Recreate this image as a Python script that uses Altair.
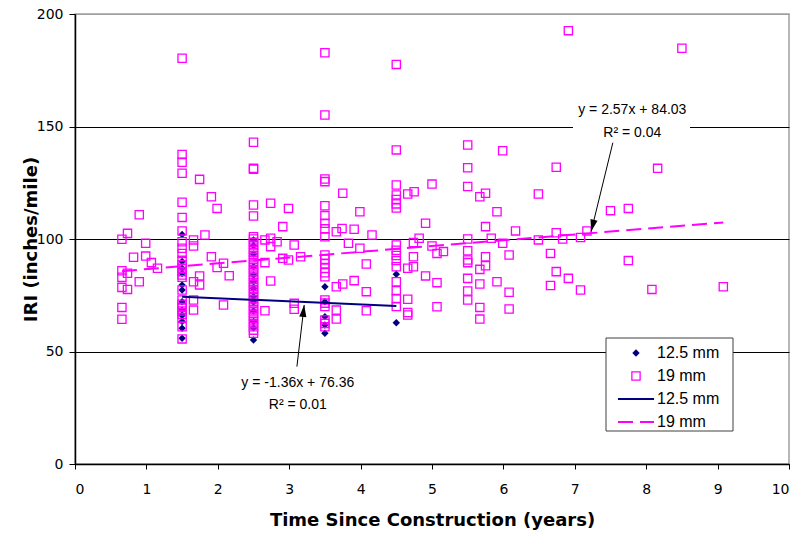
import math
import altair as alt
import pandas as pd

# ---------------- data ----------------
# 12.5 mm sections: IRI (inches/mile) grouped by age (years)
iri_125_by_age = {
    1.5: [102.0, 90.0, 87.0, 84.7, 79.6, 77.3, 72.1, 68.4, 66.0, 63.3, 60.3, 55.9],
    2.5: [99.6, 97.0, 93.3, 87.7, 84.0, 81.0, 78.0, 74.4, 72.0, 68.0, 63.3, 60.5, 55.1],
    3.5: [78.8, 72.1, 65.5, 61.8, 58.1],
    4.5: [84.3, 62.8],
}

# 19 mm sections surveyed at the common ages
iri_19_by_age = {
    1.5: [180.3, 137.6, 134.1, 129.2, 116.3, 109.6, 103.6, 98.8, 95.9, 93.6, 90.5, 88.5,
          87.0, 85.5, 84.0, 83.0, 77.3, 72.9, 71.0, 69.5, 68.0, 66.5, 65.0, 61.0, 55.6],
    2.5: [143.0, 131.4, 131.0, 115.1, 110.2, 101.0, 100.0, 98.5, 97.0, 95.5, 94.0, 92.5,
          91.0, 89.5, 88.0, 86.5, 85.0, 83.5, 82.0, 80.5, 79.0, 77.5, 76.0, 74.5, 73.0,
          71.5, 70.0, 68.5, 67.0, 65.5, 64.0, 62.5, 61.0, 59.5, 58.1],
    3.5: [182.8, 155.1, 126.7, 125.5, 114.8, 110.4, 107.0, 104.5, 101.0, 92.9, 91.0, 89.0,
          87.0, 85.0, 83.2, 72.9, 71.5, 70.0, 64.0, 62.5, 61.0],
    4.5: [177.6, 139.6, 124.0, 119.6, 117.6, 115.6, 113.8, 97.3, 95.0, 92.7, 90.4, 87.7,
          81.0, 77.0, 73.5, 70.0],
}

# 19 mm sections at other ages
age_19_other = [
    0.90, 0.735, 0.657, 0.99, 0.82, 0.99, 1.07, 1.155, 0.657, 0.735, 0.657, 0.90, 0.657, 0.735, 0.657, 0.657,
    1.745, 1.91, 1.99, 1.82, 1.66, 1.66, 1.91, 1.99, 2.08, 2.16, 1.745, 1.66, 1.745, 1.66, 1.66, 2.08,
    2.74, 2.99, 2.91, 2.66, 2.74, 2.83, 2.74, 3.07, 2.66, 2.91, 2.99, 3.16, 2.74, 2.66, 3.07, 3.07,
    3.75, 3.99, 3.66, 3.74, 3.91, 4.16, 3.83, 3.99, 4.08, 3.66, 3.75, 3.91, 4.08, 3.66, 3.66, 4.08,
    4.66, 4.75, 5.0, 4.91, 4.82, 4.74, 5.0, 5.07, 4.74, 4.66, 4.74, 4.91, 5.07, 4.66, 4.66, 4.66, 5.07,
    5.50, 5.99, 5.50, 6.74, 5.50, 5.75, 5.67, 6.49, 7.5, 5.91, 5.75, 6.17, 6.74, 7.17, 5.5, 5.83,
    5.99, 6.49, 6.83, 7.08, 5.16, 5.5, 5.5, 5.5, 5.75, 5.75, 5.67, 6.08, 6.66, 5.5, 5.67, 5.91,
    6.74, 6.91, 6.66, 7.08, 5.5, 5.5, 6.08, 5.67, 6.08, 5.67,
    8.16, 7.75, 7.75, 8.08, 9.08, 8.5, 6.91,
]
iri_19_other = [
    110.8, 102.5, 99.9, 98.1, 91.9, 92.4, 89.5, 87.0, 85.9, 84.8, 83.0, 81.0, 78.5, 77.6, 69.6, 64.3,
    126.5, 118.8, 113.6, 101.8, 99.6, 96.9, 92.1, 87.3, 89.2, 83.7, 83.6, 81.0, 79.6, 72.9, 68.4, 70.7,
    115.9, 113.6, 105.5, 99.6, 100.3, 98.8, 96.6, 97.3, 89.5, 91.4, 90.7, 92.1, 81.3, 68.1, 71.4, 68.8,
    120.3, 112.1, 103.2, 104.7, 104.3, 101.8, 98.1, 95.9, 88.9, 78.8, 80.0, 81.5, 76.6, 68.4, 64.4, 68.1,
    120.0, 121.0, 124.4, 107.0, 100.3, 98.4, 96.9, 93.6, 92.1, 87.0, 87.7, 83.6, 80.6, 73.2, 67.3, 66.2, 69.9,
    141.8, 139.2, 131.7, 131.9, 123.3, 120.3, 118.8, 120.0, 112.6, 112.1, 105.5, 103.6, 102.8, 103.6, 100.0, 100.3,
    98.1, 99.6, 100.0, 100.7, 94.4, 94.8, 90.7, 89.5, 92.1, 88.1, 86.5, 92.9, 93.6, 82.5, 80.0, 81.0,
    85.5, 82.5, 79.3, 77.3, 76.9, 72.9, 76.3, 69.6, 68.9, 64.4,
    131.4, 113.6, 90.4, 77.6, 78.8, 184.8, 192.6,
]

# linear trend lines as printed on the chart
trend_series = ["12.5 mm", "19 mm"]
trend_slope = [-1.36, 2.57]
trend_intercept = [76.36, 84.03]
trend_eq = ["y = -1.36x + 76.36", "y = 2.57x + 84.03"]
trend_r2 = ["R\u00b2 = 0.01", "R\u00b2 = 0.04"]

# ---------------- styles / layout ----------------
NAVY = "#000080"
MAGENTA = "#FF00FF"
W, H = 714, 450
X_MAX, Y_MAX = 10, 200
PX_X, PX_Y = W / X_MAX, H / Y_MAX
AXIS_FONT = "DejaVu Sans"
TEXT_FONT = "Liberation Sans"

# ---------------- tables ----------------
df125 = pd.DataFrame(
    [(a, v) for a, vals in iri_125_by_age.items() for v in vals], columns=["x", "y"]
)
df19 = pd.DataFrame(
    [(a, v) for a, vals in iri_19_by_age.items() for v in vals]
    + list(zip(age_19_other, iri_19_other)),
    columns=["x", "y"],
)

ranges = {"12.5 mm": (df125.x.min(), df125.x.max()), "19 mm": (df19.x.min(), df19.x.max())}
trend_rows = []
for s, m, b in zip(trend_series, trend_slope, trend_intercept):
    for xv in ranges[s]:
        trend_rows.append({"series": s, "x": xv, "y": m * xv + b})
trend_df = pd.DataFrame(trend_rows)

xs = alt.Scale(domain=[0, X_MAX], nice=False, zero=True)
ys = alt.Scale(domain=[0, Y_MAX], nice=False, zero=True)

x_axis = alt.Axis(
    values=list(range(0, 11)), format="d", title="Time Since Construction (years)", grid=False,
    tickSize=5, labelPadding=13, titleY=56, titleBaseline="middle",
)
y_axis = alt.Axis(
    values=[0, 50, 100, 150, 200], format="d", title="IRI (inches/mile)", grid=True,
    gridColor=alt.condition("datum.value >= 200", alt.value("#a0a0a0"), alt.value("black")),
    tickSize=6, labelPadding=6, titleX=-44, titleY=H / 2, titleBaseline="middle", titleAngle=270,
)

X = alt.X("x:Q", scale=xs, axis=x_axis)
Y = alt.Y("y:Q", scale=ys, axis=y_axis)

diamonds = alt.Chart(df125).mark_point(
    shape="diamond", filled=True, color=NAVY, size=55, opacity=1
).encode(x=X, y=Y)

squares = alt.Chart(df19).mark_point(
    shape="square", filled=False, color=MAGENTA, size=68, strokeWidth=1.3, opacity=1
).encode(x=X, y=Y)

line125 = alt.Chart(trend_df[trend_df.series == "12.5 mm"]).mark_line(
    color=NAVY, strokeWidth=2
).encode(x=X, y=Y)
line19 = alt.Chart(trend_df[trend_df.series == "19 mm"]).mark_line(
    color=MAGENTA, strokeWidth=2, strokeDash=[15, 7]
).encode(x=X, y=Y)

# ---------------- annotations ----------------
ann_df = pd.DataFrame({
    "x": [3.12, 3.12, 7.805, 7.805],
    "y": [36.0, 26.2, 157.3, 147.0],
    "text": [trend_eq[0], trend_r2[0], trend_eq[1], trend_r2[1]],
})
ann_bg = alt.Chart(pd.DataFrame({"k": [0]})).mark_rect(fill="white").encode(
    x=alt.value(498), x2=alt.value(615), y=alt.value(86), y2=alt.value(128)
)
ann_text = alt.Chart(ann_df).mark_text(
    font=TEXT_FONT, fontSize=14, color="black", align="center", baseline="middle"
).encode(x=alt.X("x:Q", scale=xs), y=alt.Y("y:Q", scale=ys), text="text:N")

arrows = pd.DataFrame({
    "x": [3.108, 7.533], "y": [43.3, 142.8],      # label end
    "x2": [3.210, 7.229], "y2": [70.7, 103.3],    # tip end
})
arrows["ang"] = [
    (math.degrees(math.atan2((r.x2 - r.x) * PX_X, (r.y2 - r.y) * PX_Y)) + 360) % 360
    for r in arrows.itertuples()
]
arrow_lines = alt.Chart(arrows).mark_rule(color="black", strokeWidth=1).encode(
    x=alt.X("x:Q", scale=xs), y=alt.Y("y:Q", scale=ys), x2="x2:Q", y2="y2:Q"
)
arrow_heads = alt.Chart(arrows).mark_point(
    shape="M0,0L-0.6,2L0.6,2Z", filled=True, color="black", size=144, opacity=1, strokeWidth=0
).encode(
    x=alt.X("x2:Q", scale=xs), y=alt.Y("y2:Q", scale=ys), angle=alt.Angle("ang:Q", scale=None)
)

# ---------------- legend (drawn as a boxed key) ----------------
one = pd.DataFrame({"k": [0]})
LX0, LX1, LY0, LY1 = 531, 658, 324, 417
rows_y = [339, 362, 385, 408]
legend_layers = [
    alt.Chart(one).mark_rect(fill="white", stroke="#404040", strokeWidth=1).encode(
        x=alt.value(LX0), x2=alt.value(LX1), y=alt.value(LY0), y2=alt.value(LY1)
    ),
    alt.Chart(one).mark_point(shape="diamond", filled=True, color=NAVY, size=55, opacity=1).encode(
        x=alt.value(561), y=alt.value(rows_y[0])
    ),
    alt.Chart(one).mark_point(shape="square", filled=False, color=MAGENTA, size=68, strokeWidth=1.3, opacity=1).encode(
        x=alt.value(561), y=alt.value(rows_y[1])
    ),
    alt.Chart(one).mark_rule(color=NAVY, strokeWidth=2).encode(
        x=alt.value(543), x2=alt.value(579), y=alt.value(rows_y[2])
    ),
    alt.Chart(one).mark_rule(color=MAGENTA, strokeWidth=2, strokeDash=[15, 7]).encode(
        x=alt.value(543), x2=alt.value(579), y=alt.value(rows_y[3])
    ),
]
for lab, yy in zip(trend_series + trend_series, rows_y):
    legend_layers.append(
        alt.Chart(one).mark_text(font=TEXT_FONT, fontSize=16, color="black", align="left", baseline="middle").encode(
            x=alt.value(582), y=alt.value(yy), text=alt.value(lab)
        )
    )

chart = alt.layer(
    diamonds, squares, line125, line19, ann_bg, ann_text, arrow_lines, arrow_heads, *legend_layers
).properties(
    width=W, height=H,
    autosize=alt.AutoSizeParams(type="none"),
    padding={"left": 75, "top": 14, "right": 9, "bottom": 72},
    background="white",
).configure_view(
    stroke="#a0a0a0", strokeWidth=1.5
).configure_axis(
    domainColor="black", domainWidth=1.5, tickColor="black", tickWidth=1,
    labelColor="black", titleColor="black",
    labelFont=AXIS_FONT, labelFontSize=14,
    titleFont=AXIS_FONT, titleFontSize=18, titleFontWeight="bold",
    gridWidth=1,
)

chart.save("out.html", embed_options={"renderer": "svg", "actions": False})
